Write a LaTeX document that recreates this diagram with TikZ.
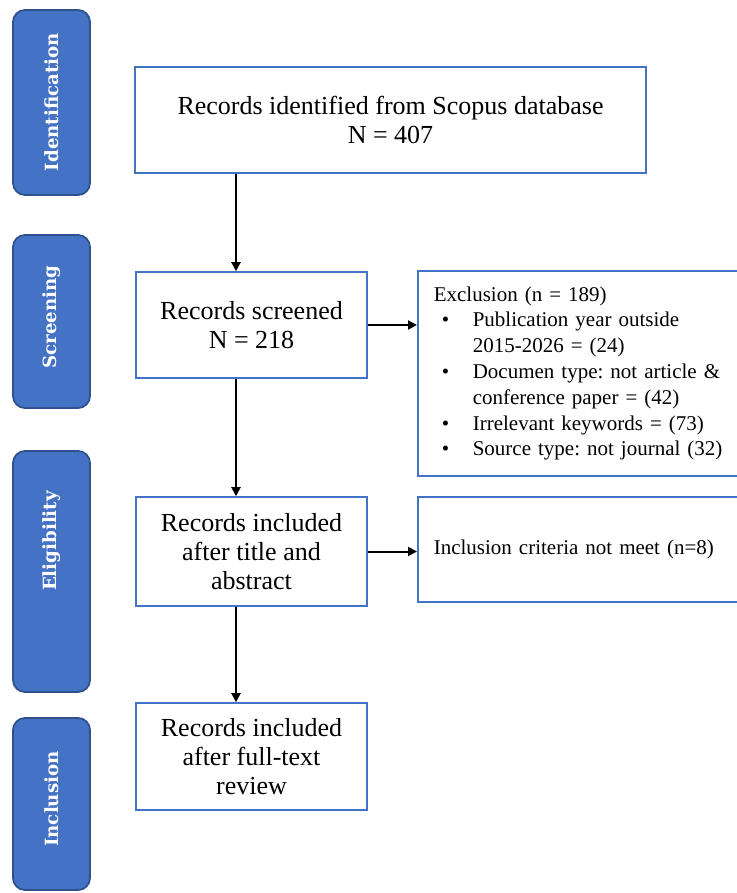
\documentclass[tikz,border=0pt]{standalone}
\usepackage{fontspec}
\setmainfont{Liberation Serif}
\newfontfamily\tabfont{DejaVu Serif}
\usetikzlibrary{arrows.meta}
\definecolor{tabblue}{HTML}{4472C4}
\definecolor{tabedge}{HTML}{2F528F}
\definecolor{boxedge}{HTML}{4472C4}

\begin{document}
\begin{tikzpicture}[x=0.5pt, y=-0.5pt, >={Triangle[length=4.5pt,width=4.5pt]},
  box/.style={draw=boxedge, line width=0.8pt, align=center, inner sep=0pt, font=\fontsize{13}{14.5}\selectfont},
  sidebox/.style={draw=boxedge, line width=0.8pt, align=left, inner xsep=8pt, inner ysep=0pt, text width=170pt, font=\fontsize{10.5}{12.9}\selectfont\frenchspacing},
  tab/.style={draw=tabedge, fill=tabblue, line width=0.9pt, rounded corners=6pt, minimum width=38.5pt},
  tablbl/.style={text=white, rotate=90, inner sep=0pt, font=\tabfont\bfseries\fontsize{9.1}{12}\selectfont},
  flow/.style={->, line width=1pt}]
\clip (0,0) rectangle (737,893);
% stage tabs
\node[tab, minimum height=92.5pt] (ident) at (51.5,102.5) {};
\node[tab, minimum height=86.5pt] (screen) at (51.5,321.5) {};
\node[tab, minimum height=120.5pt] (elig) at (51.5,571.5) {};
\node[tab, minimum height=86pt] (incl) at (51.5,804) {};
\node[tablbl] (identlbl) at (51.5,102) {Identification};
\node[tablbl] (screenlbl) at (51.5,317) {Screening};
\node[tablbl] (eliglbl) at (51.5,541) {Eligibility};
\node[tablbl] (incllbl) at (51.5,799) {Inclusion};
% flow boxes
\node[box, minimum width=255.5pt, minimum height=53pt] (idbox) at (390.5,120) {Records identified from Scopus database\\ N = 407};
\node[box, minimum width=115.5pt, minimum height=53pt] (scr) at (251.5,325) {Records screened\\ N = 218};
\node[box, minimum width=115.5pt, minimum height=54.5pt] (abs) at (251.5,551.5) {Records included\\ after title and\\ abstract};
\node[box, minimum width=115.5pt, minimum height=53.5pt] (full) at (251.5,756.5) {Records included\\ after full-text\\ review};
\node[sidebox, minimum height=102.5pt, anchor=west] (excl) at (417,373.5) {Exclusion (n = 189)\\
  \hspace*{4pt}\makebox[15.5pt][l]{\textbullet}Publication year outside\\
  \hspace*{19.5pt}2015-2026 = (24)\\
  \hspace*{4pt}\makebox[15.5pt][l]{\textbullet}Documen type: not article \&\\
  \hspace*{19.5pt}conference paper = (42)\\
  \hspace*{4pt}\makebox[15.5pt][l]{\textbullet}Irrelevant keywords = (73)\\
  \hspace*{4pt}\makebox[15.5pt][l]{\textbullet}Source type: not journal (32)};
\node[sidebox, minimum height=52.5pt, anchor=west] (incrit) at (417,549.5) {Inclusion criteria not meet (n=8)};
% connectors
\coordinate (axis) at (236,0);
\draw[flow] (idbox.south -| axis) -- (scr.north -| axis);
\draw[flow] (scr.south -| axis) -- (abs.north -| axis);
\draw[flow] (abs.south -| axis) -- (full.north -| axis);
\draw[flow] (scr.east) -- (scr.east -| excl.west);
\draw[flow] (abs.east) -- (abs.east -| incrit.west);
\end{tikzpicture}
\end{document}
